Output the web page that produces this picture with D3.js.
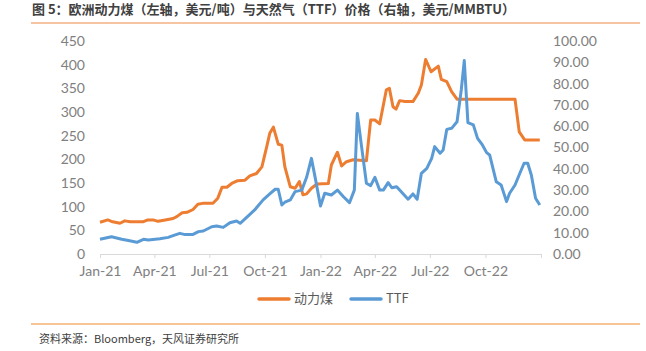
<!DOCTYPE html>
<html>
<head>
<meta charset="utf-8">
<script src="https://cdn.jsdelivr.net/npm/d3@7"></script>
<style>
  body { margin: 0; background: #fff; }
  text { font-family: "Noto Sans CJK SC", "Noto Sans", sans-serif; }
</style>
</head>
<body>
<div id="chart"></div>
<script>
// coal, USD/t (left axis)
var coalDates = ["2021-01-01","2021-01-14","2021-01-22","2021-02-03","2021-02-11","2021-02-20","2021-03-13","2021-03-21","2021-03-30","2021-04-07","2021-04-19","2021-05-02","2021-05-08","2021-05-17","2021-05-25","2021-06-04","2021-06-12","2021-06-20","2021-07-07","2021-07-15","2021-07-22","2021-07-30","2021-08-07","2021-08-17","2021-08-29","2021-09-06","2021-09-17","2021-09-26","2021-10-04","2021-10-09","2021-10-15","2021-10-23","2021-10-29","2021-11-03","2021-11-12","2021-11-20","2021-11-27","2021-12-03","2021-12-09","2021-12-17","2021-12-26","2022-01-14","2022-01-19","2022-01-29","2022-02-05","2022-02-13","2022-02-24","2022-03-18","2022-03-25","2022-04-01","2022-04-09","2022-04-20","2022-04-25","2022-05-01","2022-05-06","2022-05-12","2022-05-21","2022-06-03","2022-06-12","2022-06-17","2022-06-24","2022-07-03","2022-07-15","2022-07-20","2022-07-29","2022-08-06","2022-08-15","2022-11-19","2022-11-26","2022-12-05","2022-12-30"];
var coalValues = [67,72,68,65,70,68,68,72,72,69,72,75,79,87,88,94,105,107,107,118,141,141,149,155,156,165,170,184,227,255,268,232,230,184,142,139,153,125,127,139,148,149,188,215,186,195,199,197,283,283,275,347,350,311,306,324,322,322,340,357,411,385,397,369,364,343,327,327,258,241,241];

// TTF, USD/MMBTU (right axis)
var ttfDates = ["2021-01-01","2021-01-20","2021-02-06","2021-02-17","2021-03-03","2021-03-14","2021-03-22","2021-04-10","2021-04-24","2021-05-02","2021-05-13","2021-05-22","2021-06-04","2021-06-13","2021-06-21","2021-07-05","2021-07-13","2021-07-24","2021-08-04","2021-08-15","2021-08-21","2021-09-03","2021-09-14","2021-09-28","2021-10-09","2021-10-18","2021-10-23","2021-10-29","2021-11-03","2021-11-12","2021-11-20","2021-12-01","2021-12-09","2021-12-17","2021-12-24","2022-01-01","2022-01-08","2022-01-19","2022-01-29","2022-02-08","2022-02-18","2022-02-26","2022-03-03","2022-03-10","2022-03-18","2022-03-25","2022-04-01","2022-04-09","2022-04-15","2022-04-23","2022-04-29","2022-05-07","2022-05-12","2022-05-26","2022-06-03","2022-06-10","2022-06-17","2022-06-26","2022-07-04","2022-07-09","2022-07-18","2022-07-23","2022-07-29","2022-08-06","2022-08-15","2022-08-22","2022-08-27","2022-09-02","2022-09-11","2022-09-18","2022-09-26","2022-10-03","2022-10-08","2022-10-19","2022-10-27","2022-11-05","2022-11-10","2022-11-19","2022-11-27","2022-12-04","2022-12-10","2022-12-16","2022-12-23","2022-12-30"];
var ttfValues = [6.9,8.1,6.9,6.3,5.5,6.9,6.6,7.2,7.8,8.6,9.7,9.1,9.2,10.5,10.8,12.8,13.1,12.5,14.7,15.5,14.4,17.8,20.7,25.4,28.2,30.4,30.4,23,24.3,25.4,29.3,30,36,44.9,34.7,22.5,28.5,27.7,30,26.9,24.1,30,66,50.4,33.2,32.1,36,30,30,33.5,31.1,31.6,30,25.7,28.2,25.7,37.9,40.2,44.9,50.4,47.3,48.8,58.5,59,62.1,77,90.8,61.7,60.6,54.3,51.2,47.6,46.5,33.9,32.4,24.6,28.5,32.4,37.9,42.6,42.6,37.1,26.2,23];

var xTicks = ["2021-01-01","2021-04-01","2021-07-01","2021-10-01","2022-01-01","2022-04-01","2022-07-01","2022-10-01","2023-01-01"];
var leftTicks = [0,50,100,150,200,250,300,350,400,450];
var rightTicks = [0,10,20,30,40,50,60,70,80,90,100];

var seriesNames = ["动力煤", "TTF"];
var colors = ["#ED7D31", "#5B9BD5"];

var W = 646, H = 351;
var margin = { left: 100, right: 105, top: 41, bottom: 97 };
var width = W - margin.left - margin.right,
    height = H - margin.top - margin.bottom;

var parseTime = d3.timeParse("%Y-%m-%d");
var formatTime = d3.timeFormat("%b-%y");

var svg = d3.select("#chart")
    .append("svg")
        .attr("width", W)
        .attr("height", H);

// title + rules
svg.append("text")
    .attr("x", 32)
    .attr("y", 14)
    .attr("font-size", "13px")
    .attr("font-weight", "bold")
    .attr("fill", "#404040")
    .text("图 5：欧洲动力煤（左轴，美元/吨）与天然气（TTF）价格（右轴，美元/MMBTU）");

svg.append("line")
    .attr("x1", 31).attr("x2", 640)
    .attr("y1", 23).attr("y2", 23)
    .attr("stroke", "#F4B183")
    .attr("stroke-width", 1.5);

svg.append("line")
    .attr("x1", 31).attr("x2", 640)
    .attr("y1", 324).attr("y2", 324)
    .attr("stroke", "#F08A2C")
    .attr("stroke-width", 1);

svg.append("text")
    .attr("x", 39)
    .attr("y", 343)
    .attr("font-size", "11px")
    .attr("fill", "#404040")
    .text("资料来源：Bloomberg，天风证券研究所");

var g = svg.append("g")
    .attr("transform", "translate(" + margin.left + "," + margin.top + ")");

var x = d3.scaleTime()
    .domain([parseTime(xTicks[0]), parseTime(xTicks[xTicks.length - 1])])
    .range([0, width]);

var yL = d3.scaleLinear().domain([0, 450]).range([height, 0]);
var yR = d3.scaleLinear().domain([0, 100]).range([height, 0]);

var x_axis = d3.axisBottom(x)
    .tickValues(xTicks.map(parseTime))
    .tickSize(4)
    .tickPadding(8)
    .tickFormat(function(d, i){ return i < xTicks.length - 1 ? formatTime(d) : ""; });

var y_axis = d3.axisLeft(yL).tickValues(leftTicks).tickSize(0).tickPadding(15);
var y2_axis = d3.axisRight(yR).tickValues(rightTicks).tickSize(0).tickPadding(12)
    .tickFormat(d3.format(".2f"));

var xAxisCall = g.append("g")
    .attr("transform", "translate(0," + height + ")")
    .call(x_axis);

var yAxisCall = g.append("g").call(y_axis);
var y2AxisCall = g.append("g")
    .attr("transform", "translate(" + width + ",0)")
    .call(y2_axis);

[xAxisCall, yAxisCall, y2AxisCall].forEach(function(a){
    a.attr("font-family", null);
    a.selectAll("text")
        .attr("font-size", "14px")
        .attr("fill", "#808080")
        .style("font-family", "Lato, sans-serif");
});
xAxisCall.select(".domain").attr("stroke", "#d9d9d9");
xAxisCall.selectAll(".tick line").attr("stroke", "#d9d9d9");
yAxisCall.select(".domain").remove();
y2AxisCall.select(".domain").remove();

var coal = coalDates.map(function(d, i){ return { date: parseTime(d), val: coalValues[i] }; });
var ttf = ttfDates.map(function(d, i){ return { date: parseTime(d), val: ttfValues[i] }; });

var coalLine = d3.line().x(function(d){ return x(d.date); }).y(function(d){ return yL(d.val); });
var ttfLine = d3.line().x(function(d){ return x(d.date); }).y(function(d){ return yR(d.val); });

g.append("path")
    .datum(coal)
    .attr("d", coalLine)
    .attr("fill", "none")
    .attr("stroke", colors[0])
    .attr("stroke-width", 3)
    .attr("stroke-linejoin", "round");

g.append("path")
    .datum(ttf)
    .attr("d", ttfLine)
    .attr("fill", "none")
    .attr("stroke", colors[1])
    .attr("stroke-width", 3)
    .attr("stroke-linejoin", "round");

// legend
var legend = svg.append("g");
var legendX = [258, 350];
seriesNames.forEach(function(name, i){
    legend.append("line")
        .attr("x1", legendX[i] + 1).attr("x2", legendX[i] + 31)
        .attr("y1", 299).attr("y2", 299)
        .attr("stroke", colors[i])
        .attr("stroke-width", 3.5)
        .attr("stroke-linecap", "round");
    legend.append("text")
        .attr("x", legendX[i] + 36)
        .attr("y", 299)
        .attr("dominant-baseline", "middle")
        .attr("font-size", "13px")
        .attr("fill", "#595959")
        .text(name);
});
</script>
</body>
</html>
